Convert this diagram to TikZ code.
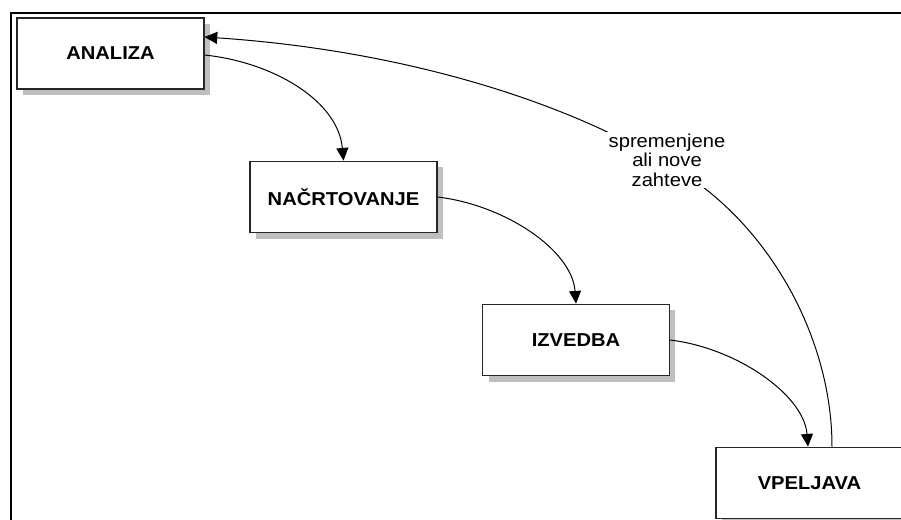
\documentclass[tikz,border=0pt]{standalone}
\usepackage{fontspec}
\usetikzlibrary{arrows.meta,shadows,calc}
\newfontfamily\diagfont{Liberation Sans}[FakeStretch=1.08]

\tikzset{
  phase/.style={draw=black!85, line width=1.1pt, fill=white,
    minimum width=140pt, minimum height=53.5pt, inner sep=0pt,
    font=\diagfont\bfseries\fontsize{14}{16}\selectfont,
    drop shadow={fill=black!25, opacity=1, shadow xshift=4.5pt, shadow yshift=-4.5pt}},
  flow/.style={line width=0.75pt, -{Triangle[length=9.5pt,width=9pt]}},
  note/.style={fill=white, align=center, inner sep=1pt,
    font=\diagfont\fontsize{14}{14.5}\selectfont},
  frame/.style={line width=2.2pt, black}
}

\begin{document}
\begin{tikzpicture}[x=0.75pt, y=-0.75pt]
  \useasboundingbox (0,0) rectangle (901,519);

  % outer frame (open to the right and bottom)
  \draw[frame] (11,530) -- (11,13) -- (910,13);

  % process phases
  \node[phase] (a) at (110.5,53.5) {ANALIZA};
  \node[phase] (n) at (343.5,197) {NAČRTOVANJE};
  \node[phase] (i) at (576,340) {IZVEDBA};
  \node[phase] (v) at (809.5,483) {VPELJAVA};

  % forward flow
  \draw[flow] ($(a.east)+(0,1.5)$) .. controls (272,62) and (338,100) .. (n.north);
  \draw[flow] (n.east) .. controls (505,205) and (572,250) .. (i.north);
  \draw[flow] (i.east) .. controls (737,348) and (804,395) .. ($(v.north)+(-1.5,0)$);

  % feedback loop back to analysis
  \coordinate (fb) at (660,160);
  \draw[flow] ($(v.north)+(22.5,0)$) .. controls (832,330) and (760,210) .. (fb)
              .. controls (560,100) and (400,50) .. ($(a.east)+(0,-16.5)$);
  \node[note] (lbl) at (667,160) {spremenjene\\ali nove\\zahteve};
\end{tikzpicture}
\end{document}
